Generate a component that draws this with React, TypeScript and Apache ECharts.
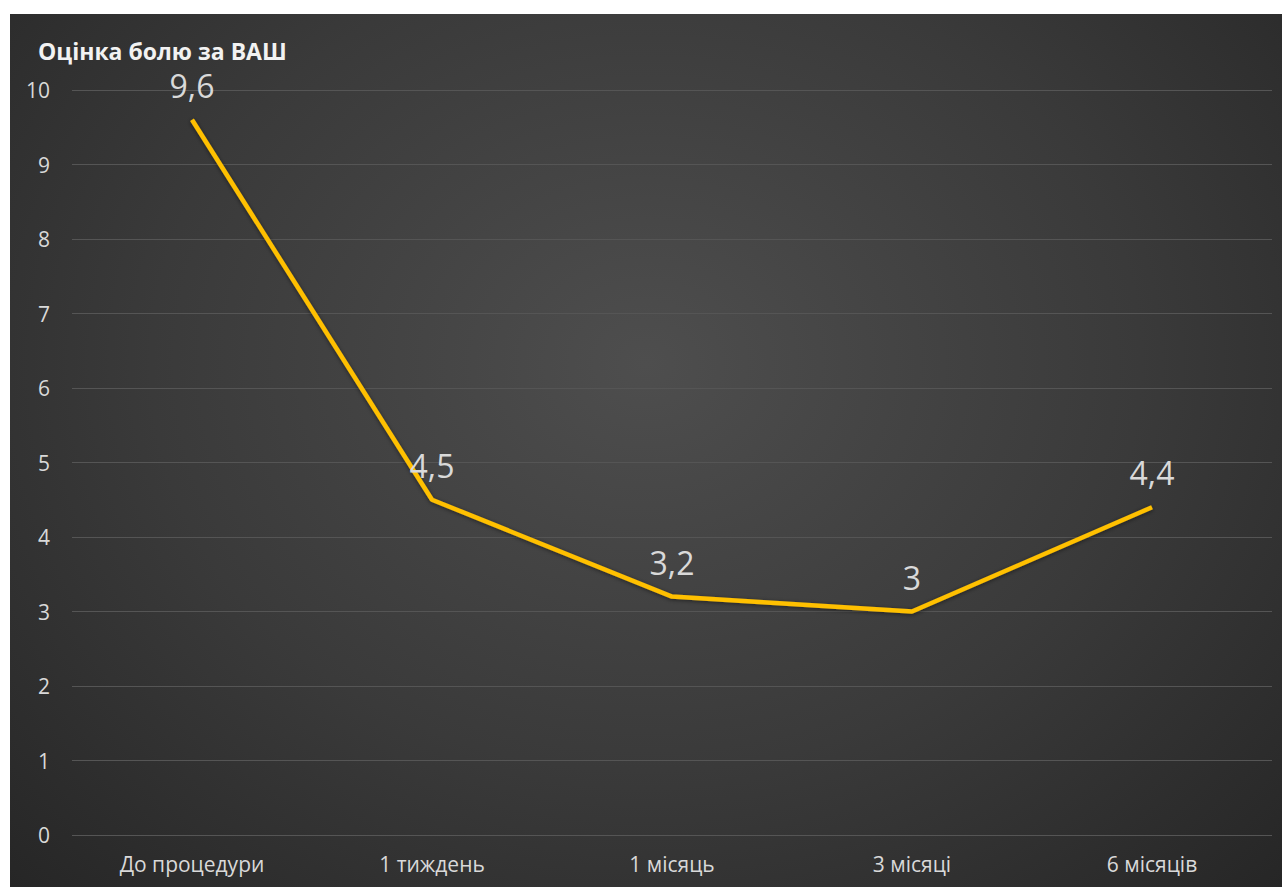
import React, { useEffect, useRef } from "react";
import * as echarts from "echarts";

const categories = ["До процедури", "1 тиждень", "1 місяць", "3 місяці", "6 місяців"];
const values = [9.6, 4.5, 3.2, 3, 4.4];
const titleText = "Оцінка болю за ВАШ";

export default function App() {
  const ref = useRef<HTMLDivElement>(null);
  useEffect(() => {
    if (!ref.current) return;
    const chart = echarts.init(ref.current, null, { renderer: "svg" });
    chart.setOption({
      animation: false,
      title: {
        text: titleText,
        left: 28,
        top: 25,
        padding: 0,
        textStyle: { color: "#f2f2f2", fontSize: 23, lineHeight: 24, fontWeight: "bold", fontFamily: "Open Sans" },
      },
      grid: { left: 62, right: 10, top: 76, bottom: 52 },
      xAxis: {
        type: "category",
        data: categories,
        boundaryGap: true,
        axisLine: { show: false },
        axisTick: { show: false },
        axisLabel: { color: "#d9d9d9", fontSize: 21, margin: 18, fontFamily: "Open Sans" },
      },
      yAxis: {
        type: "value",
        min: 0,
        max: 10,
        interval: 1,
        axisLine: { show: false },
        axisTick: { show: false },
        axisLabel: { color: "#d9d9d9", fontSize: 21, margin: 22, fontFamily: "Open Sans" },
        splitLine: { lineStyle: { color: "#555555", width: 1 } },
      },
      series: [
        {
          type: "line",
          data: values,
          showSymbol: true,
          symbol: "circle",
          symbolSize: 1,
          itemStyle: { color: "rgba(0,0,0,0)" },
          lineStyle: {
            color: "#FFC000",
            width: 4.5,
            shadowColor: "rgba(0,0,0,0.5)",
            shadowBlur: 4,
            shadowOffsetY: 1,
          },
          label: {
            show: true,
            position: "top",
            distance: 20,
            color: "#d9d9d9",
            fontSize: 32,
            lineHeight: 28,
            fontFamily: "Open Sans",
            formatter: (p: any) => String(p.value).replace(".", ","),
          },
        },
      ],
    });
    return () => chart.dispose();
  }, []);
  return (
    <div style={{ position: "fixed", left: 0, top: 0, width: 1282, height: 887, background: "#ffffff" }}>
      <div
        ref={ref}
        style={{
          position: "absolute",
          left: 10,
          top: 14,
          width: 1272,
          height: 873,
          background: "radial-gradient(ellipse at 50% 40%, #4e4e4e 0%, #3a3a3a 55%, #262626 100%)",
        }}
      />
    </div>
  );
}
